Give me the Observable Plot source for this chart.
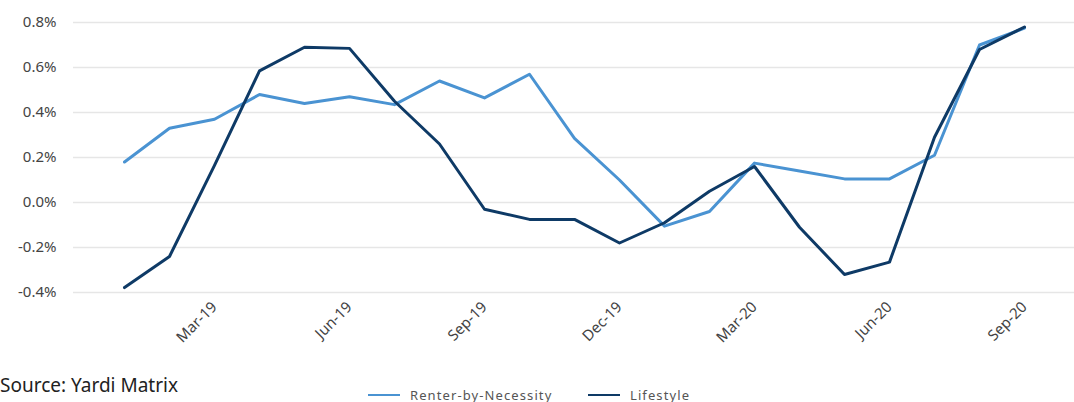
<!DOCTYPE html>
<html>
<head>
<meta charset="utf-8">
<script src="https://cdn.jsdelivr.net/npm/d3@7"></script>
<script src="https://cdn.jsdelivr.net/npm/@observablehq/plot@0.6"></script>
<style>
  html, body { margin: 0; padding: 0; background: #fff; }
  body { width: 1074px; height: 402px; overflow: hidden; font-family: "Noto Sans", Lato, sans-serif; }
  #chart svg { display: block; }
  #below { position: relative; width: 1074px; height: 32px; }
  #source { position: absolute; left: 0px; top: 2px; white-space: nowrap; font-size: 19px; line-height: 26px; color: #222; }
  .leg { position: absolute; top: 16px; display: flex; align-items: center; font-size: 13px; letter-spacing: 1.1px; color: #555; white-space: nowrap; }
  .sw { width: 32px; height: 2px; margin-right: 10px; }
</style>
</head>
<body>
<div id="chart"></div>
<div id="below">
  <div id="source">Source: Yardi Matrix</div>
  <div class="leg" style="left:368px"><span class="sw" style="background:#4a93d2"></span>Renter-by-Necessity</div>
  <div class="leg" style="left:588px"><span class="sw" style="background:#0e3a66"></span>Lifestyle</div>
</div>
<script>
const months = ["Jan-19","Feb-19","Mar-19","Apr-19","May-19","Jun-19","Jul-19","Aug-19","Sep-19","Oct-19","Nov-19","Dec-19",
                "Jan-20","Feb-20","Mar-20","Apr-20","May-20","Jun-20","Jul-20","Aug-20","Sep-20"];
const tickLabels = ["Mar-19","Jun-19","Sep-19","Dec-19","Mar-20","Jun-20","Sep-20"];
const renterByNecessity = [0.18,0.33,0.37,0.48,0.44,0.47,0.435,0.54,0.465,0.57,0.285,0.10,
                           -0.105,-0.04,0.175,0.14,0.105,0.105,0.21,0.70,0.775];
const lifestyle = [-0.378,-0.24,0.165,0.585,0.69,0.685,0.45,0.26,-0.03,-0.075,-0.075,-0.18,
                   -0.09,0.05,0.16,-0.11,-0.32,-0.265,0.29,0.68,0.78];
const yTicks = [-0.4,-0.2,0,0.2,0.4,0.6,0.8];
const seriesNames = ["Renter-by-Necessity","Lifestyle"];
const colors = ["#4a93d2","#0e3a66"];

const data = [];
months.forEach((m, i) => {
  data.push({month: m, value: renterByNecessity[i], series: seriesNames[0]});
  data.push({month: m, value: lifestyle[i], series: seriesNames[1]});
});

const chart = Plot.plot({
  width: 1074,
  height: 370,
  marginLeft: 73,
  marginRight: 0,
  marginTop: 22,
  marginBottom: 78,
  style: {fontFamily: "'Noto Sans', Lato, sans-serif", fontSize: "14px", color: "#444"},
  x: {type: "point", domain: months, padding: 0, insetLeft: 45, insetRight: 44, label: null},
  y: {domain: [-0.4, 0.8], label: null},
  color: {domain: seriesNames, range: colors},
  marks: [
    Plot.gridY(yTicks, {stroke: "#e6e6e6", strokeOpacity: 1, strokeWidth: 1.5}),
    Plot.axisY(yTicks, {tickSize: 0, tickPadding: 17, tickFormat: d => d.toFixed(1) + "%", fontSize: 15, fill: "#444", label: null}),
    Plot.axisX(tickLabels, {tickSize: 0, tickRotate: -45, tickPadding: 12, fontSize: 15, fill: "#444", label: null}),
    Plot.line(data, {x: "month", y: "value", z: "series", stroke: "series", strokeWidth: 3, strokeLinejoin: "round"})
  ]
});
document.getElementById("chart").appendChild(chart);
</script>
</body>
</html>
